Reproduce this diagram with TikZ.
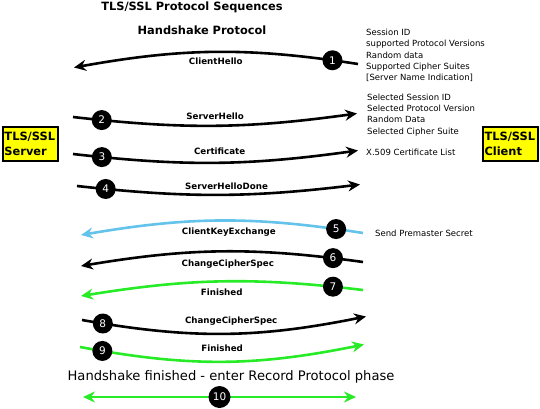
\documentclass[tikz,border=0pt]{standalone}
\usepackage{fontspec}
\setmainfont{DejaVu Sans}
\usetikzlibrary{arrows.meta}
\definecolor{kblue}{RGB}{100,195,235}
\definecolor{kgreen}{RGB}{40,235,40}
\definecolor{kyellow}{RGB}{255,255,0}
\tikzset{
 msg/.style={line width=2.6pt, -{Stealth[length=12pt,width=11pt,inset=4pt]}},
 num/.style={circle, fill=black, text=white, minimum size=20pt, inner sep=0pt, font=\fontsize{10.5}{10}\selectfont},
 lbl/.style={font=\fontsize{8.7}{10}\bfseries, inner sep=0pt},
 info/.style={font=\fontsize{8.5}{11.3}\selectfont, align=left, anchor=west, inner sep=0pt},
 party/.style={draw=black, line width=1.2pt, fill=kyellow, minimum width=55pt, minimum height=34pt, text width=52pt, align=left, inner sep=1.5pt, font=\fontsize{11.4}{15}\bfseries},
 head/.style={font=\fontsize{11.4}{13}\bfseries, inner sep=0pt},
}
\begin{document}
\begin{tikzpicture}[x=1pt,y=-1pt]
\useasboundingbox (0,0) rectangle (540,409);
\node[head] (title) at (192,7) {TLS/SSL Protocol Sequences};
\node[head] (hs) at (202,30) {Handshake Protocol};
\node[party] (server) at (30.5,144) {TLS/SSL\\Server};
\node[party] (client) at (510.5,144) {TLS/SSL\\Client};

% 1 ClientHello
\coordinate (a1s) at (358,64); \coordinate (a1e) at (74,67.5);
\draw[msg] (a1s) to[bend right=9.5] node[num,pos=0.08] (n1) {1} node[lbl,pos=0.5,yshift=-9pt] (l1) {ClientHello} (a1e);
\node[info] (i1) at (366,55.5) {Session ID\\supported Protocol Versions\\Random data\\Supported Cipher Suites\\{[}Server Name Indication{]}};

% 2 ServerHello
\coordinate (a2s) at (73,117); \coordinate (a2e) at (357,113.5);
\draw[msg] (a2s) to[bend right=7.2] node[num,pos=0.09] (n2) {2} node[lbl,pos=0.5,yshift=9pt] (l2) {ServerHello} (a2e);
\node[info] (i2) at (367,115) {Selected Session ID\\Selected Protocol Version\\Random Data\\Selected Cipher Suite};

% 3 Certificate
\coordinate (a3s) at (73,154); \coordinate (a3e) at (358,150.5);
\draw[msg] (a3s) to[bend right=7.2] node[num,pos=0.09] (n3) {3} node[lbl,pos=0.5,yshift=11pt,xshift=4pt] (l3) {Certificate} (a3e);
\node[info] (i3) at (366,152) {X.509 Certificate List};

% 4 ServerHelloDone
\coordinate (a4s) at (77,186); \coordinate (a4e) at (360,184.5);
\draw[msg] (a4s) to[bend right=6.6] node[num,pos=0.09] (n4) {4} node[lbl,pos=0.5,yshift=9pt,xshift=8pt] (l4) {ServerHelloDone} (a4e);

% 5 ClientKeyExchange
\coordinate (a5s) at (363,233); \coordinate (a5e) at (81,235);
\draw[msg,kblue] (a5s) to[bend right=9.3] node[num,pos=0.085] (n5) {5} node[lbl,text=black,pos=0.5,yshift=-12pt,xshift=7pt] (l5) {ClientKeyExchange} (a5e);
\node[info] (i5) at (375,233.5) {Send Premaster Secret};

% 6 ChangeCipherSpec
\coordinate (a6s) at (363,262); \coordinate (a6e) at (81,266);
\draw[msg] (a6s) to[bend right=8.7] node[num,pos=0.095] (n6) {6} node[lbl,pos=0.5,yshift=-12.5pt,xshift=6pt] (l6) {ChangeCipherSpec} (a6e);

% 7 Finished
\coordinate (a7s) at (363,290); \coordinate (a7e) at (81,296);
\draw[msg,kgreen] (a7s) to[bend right=8] node[num,pos=0.095] (n7) {7} node[lbl,text=black,pos=0.5,yshift=-11pt] (l7) {Finished} (a7e);

% 8 ChangeCipherSpec
\coordinate (a8s) at (82,320); \coordinate (a8e) at (366,316.5);
\draw[msg] (a8s) to[bend right=10.7] node[num,pos=0.065] (n8) {8} node[lbl,pos=0.5,yshift=12.5pt,xshift=7pt] (l8) {ChangeCipherSpec} (a8e);

% 9 Finished
\coordinate (a9s) at (80,347); \coordinate (a9e) at (364,344.5);
\draw[msg,kgreen] (a9s) to[bend right=11] node[num,pos=0.07] (n9) {9} node[lbl,text=black,pos=0.5,yshift=13.5pt] (l9) {Finished} (a9e);

\node[font=\fontsize{13.1}{14}\selectfont, inner sep=0pt] (rec) at (231,377) {Handshake finished - enter Record Protocol phase};

% 10
\coordinate (a10s) at (83,397); \coordinate (a10e) at (356,397);
\draw[line width=2.6pt, kgreen, {Stealth[length=12pt,width=11pt,inset=4pt]}-{Stealth[length=12pt,width=11pt,inset=4pt]}] (a10s) -- node[num, minimum size=22pt] (n10) {10} (a10e);
\end{tikzpicture}
\end{document}
